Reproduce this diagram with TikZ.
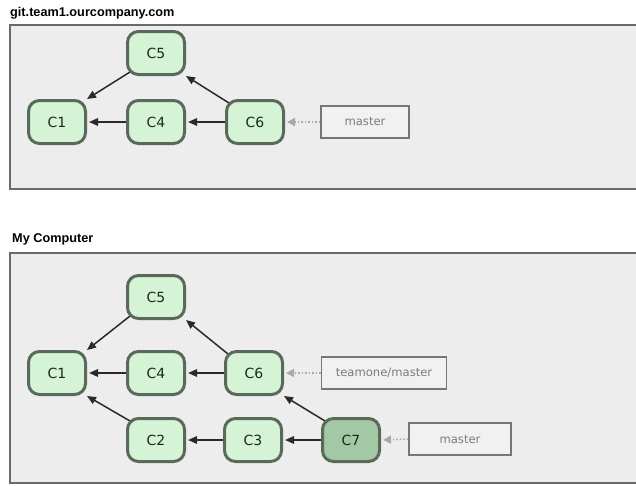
\documentclass[tikz,border=0pt]{standalone}
\usepackage{fontspec}
\setmainfont{Liberation Sans}
\newfontfamily\commitfont{DejaVu Sans}
\usetikzlibrary{arrows.meta}
\definecolor{commitfill}{HTML}{D5F4D5}
\definecolor{commitdark}{HTML}{A2C8A4}
\definecolor{commitborder}{HTML}{5A6A5A}
\definecolor{committext}{HTML}{1A2A1A}
\definecolor{framefill}{HTML}{EDEDED}
\definecolor{frameborder}{HTML}{6A6A6A}
\definecolor{labelborder}{HTML}{767676}
\definecolor{labelfill}{HTML}{F1F1F1}
\definecolor{labeltext}{HTML}{7C7C7C}
\definecolor{pointer}{HTML}{A8A8A8}
\definecolor{edgecol}{HTML}{2A2A2A}
\pgfdeclarelayer{back}
\pgfdeclarelayer{mid}
\pgfsetlayers{back,mid,main}
\begin{document}
\begin{tikzpicture}[x=1pt,y=-1pt,
  commit/.style={draw=commitborder, line width=3pt, fill=commitfill, rounded corners=11pt,
    minimum width=57pt, minimum height=43pt, inner sep=0pt, text=committext,
    font=\commitfont\fontsize{14}{16}\selectfont},
  headcommit/.style={commit, fill=commitdark},
  reflabel/.style={draw=labelborder, line width=1.5pt, fill=labelfill, minimum height=32pt,
    inner sep=0pt, text=labeltext, font=\commitfont\fontsize{11.6}{14}\selectfont},
  frame/.style={draw=frameborder, line width=2pt, fill=framefill},
  title/.style={anchor=base west, inner sep=0pt, font=\fontsize{12.7}{14}\selectfont\bfseries, text=black},
  edge/.style={draw=edgecol, line width=1.5pt, -{Triangle[length=9pt,width=7.5pt]}},
  refedge/.style={draw=pointer, line width=1.5pt, dotted, -{Triangle[length=8pt,width=8pt]}, shorten >=2pt}
]
\useasboundingbox (0,0) rectangle (636,485);
\clip (0,0) rectangle (636,485);
\begin{pgfonlayer}{back}
\fill[white] (0,0) rectangle (636,485);
\draw[frame] (10,25) rectangle (660,189);
\draw[frame] (10,253) rectangle (660,483);
\end{pgfonlayer}

% ---- top: server ----
\node[title] (t1) at (10,16) {git.team1.ourcompany.com};

\node[commit] (a5) at (156,53) {C5};
\node[commit] (a1) at (57,122) {C1};
\node[commit] (a4) at (156,122) {C4};
\node[commit] (a6) at (255,122) {C6};
\node[reflabel, minimum width=88pt] (am) at (365,122) {master};

\begin{pgfonlayer}{mid}
\draw[edge] ([shift={(4pt,4pt)}]a5.south west) -- (a1.north east);
\draw[edge] ([shift={(4pt,-4pt)}]a6.north west) -- (a5.south east);
\end{pgfonlayer}
\draw[edge, shorten >=2pt] (a4.west) -- (a1.east);
\draw[edge, shorten >=2pt] (a6.west) -- (a4.east);
\draw[refedge] (am.west) -- (a6.east);

% ---- bottom: my computer ----
\node[title] (t2) at (12,242) {My Computer};

\node[commit] (b5) at (156,297) {C5};
\node[commit] (b1) at (57,373) {C1};
\node[commit] (b4) at (156,373) {C4};
\node[commit] (b6) at (254,373) {C6};
\node[commit] (b2) at (156,440) {C2};
\node[commit] (b3) at (253,440) {C3};
\node[headcommit] (b7) at (351,440) {C7};
\node[reflabel, minimum width=125pt] (bt) at (384,373) {teamone/master};
\node[reflabel, minimum width=102pt] (bm) at (460,439) {master};

\begin{pgfonlayer}{mid}
\draw[edge] ([shift={(4pt,4pt)}]b5.south west) -- (b1.north east);
\draw[edge] ([shift={(4pt,-4pt)}]b6.north west) -- (b5.south east);
\draw[edge] ([shift={(4pt,-4pt)}]b2.north west) -- (b1.south east);
\draw[edge] ([shift={(4pt,-4pt)}]b7.north west) -- (b6.south east);
\end{pgfonlayer}
\draw[edge, shorten >=2pt] (b4.west) -- (b1.east);
\draw[edge, shorten >=2pt] (b6.west) -- (b4.east);
\draw[edge, shorten >=2pt] (b3.west) -- (b2.east);
\draw[edge, shorten >=2pt] (b7.west) -- (b3.east);
\draw[refedge] (bt.west) -- (b6.east);
\draw[refedge] (bm.west) -- (b7.east);
\end{tikzpicture}
\end{document}
